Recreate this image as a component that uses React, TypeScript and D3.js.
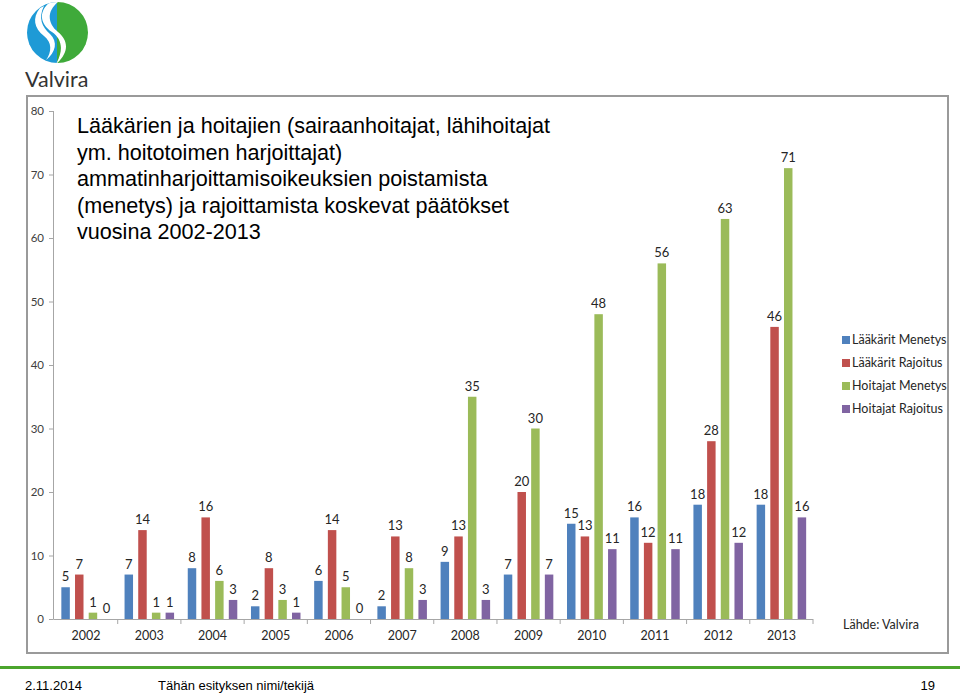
import React from 'react';
import * as d3 from 'd3';

const years = ['2002', '2003', '2004', '2005', '2006', '2007', '2008', '2009', '2010', '2011', '2012', '2013'];
const seriesNames = ['Lääkärit Menetys', 'Lääkärit Rajoitus', 'Hoitajat Menetys', 'Hoitajat Rajoitus'];
const laakaritMenetys = [5, 7, 8, 2, 6, 2, 9, 7, 15, 16, 18, 18];
const laakaritRajoitus = [7, 14, 16, 8, 14, 13, 13, 20, 13, 12, 28, 46];
const hoitajatMenetys = [1, 1, 6, 3, 5, 8, 35, 30, 48, 56, 63, 71];
const hoitajatRajoitus = [0, 1, 3, 1, 0, 3, 3, 7, 11, 11, 12, 16];
const yTicks = [0, 10, 20, 30, 40, 50, 60, 70, 80];
const colors = ['#4F81BD', '#C0504D', '#9BBB59', '#8064A2'];

const titleLines = [
    'Lääkärien ja hoitajien (sairaanhoitajat, lähihoitajat',
    'ym. hoitotoimen harjoittajat)',
    'ammatinharjoittamisoikeuksien poistamista',
    '(menetys) ja rajoittamista koskevat päätökset',
    'vuosina 2002-2013',
];

const labelFont = 'Lato, "Open Sans", sans-serif';

const Logo = () => (
    <g>
        <defs>
            <clipPath id="logoClip">
                <circle cx={57.5} cy={32.5} r={30.5} />
            </clipPath>
        </defs>
        <g clipPath="url(#logoClip)">
            <rect x={25} y={0} width={33} height={66} fill="#1E9AD6" />
            <rect x={57} y={0} width={33} height={66} fill="#3FAA3A" />
            <path d="M50,2 C38,12 40,24 52,32 C62,39 64,50 56,64 C70,52 68,40 58,32 C48,24 46,12 58,2 Z" fill="#fff" />
            <path d="M40,8 C32,18 34,28 44,36 C52,42 52,52 46,60 C56,52 58,42 50,34 C42,27 38,18 44,6 Z" fill="#fff" />
        </g>
        <text x={25} y={87} fontFamily={labelFont} fontSize={21.5} fill="#333">Valvira</text>
    </g>
);

const App = () => {
    const width = 960;
    const height = 694;
    const series = [laakaritMenetys, laakaritRajoitus, hoitajatMenetys, hoitajatRajoitus];

    const x = d3.scaleBand().domain(years).range([54.5, 813]).paddingInner(0).paddingOuter(0);
    const inner = d3.scaleBand().domain(seriesNames).range([0, x.bandwidth()]).paddingInner(0.38).paddingOuter(0.5);
    const y = d3.scaleLinear().domain([0, 80]).range([619, 111]);

    return (
        <svg width={width} height={height} style={{ position: 'absolute', left: 0, top: 0 }}>
            <rect x={0} y={0} width={width} height={height} fill="#fff" />
            <Logo />
            <rect x={27} y={96} width={921} height={557} fill="#fff" stroke="#9a9a9a" strokeWidth={2} />

            {titleLines.map((t, i) => (
                <text key={i} x={77} y={133 + i * 26.5} fontFamily='"Liberation Sans", Arial, sans-serif' fontSize={21.6} fill="#000">
                    {t}
                </text>
            ))}

            {/* y axis */}
            <line x1={53.5} x2={53.5} y1={y(80)} y2={y(0)} stroke="#a6a6a6" />
            {yTicks.map(t => (
                <g key={t}>
                    <line x1={49} x2={53.5} y1={y(t) + 0.5} y2={y(t) + 0.5} stroke="#a6a6a6" />
                    <text x={44} y={y(t) + 4} textAnchor="end" fontFamily={labelFont} fontSize={11.5} fill="#404040">{t}</text>
                </g>
            ))}

            {/* x axis */}
            <line x1={53.5} x2={x.range()[1]} y1={y(0) + 0.5} y2={y(0) + 0.5} stroke="#a6a6a6" />
            {years.map(yr => (
                <g key={yr}>
                    <line x1={(x(yr) as number) + x.bandwidth()} x2={(x(yr) as number) + x.bandwidth()} y1={y(0)} y2={y(0) + 5} stroke="#a6a6a6" />
                    <text x={(x(yr) as number) + x.bandwidth() / 2} y={640} textAnchor="middle" fontFamily={labelFont} fontSize={12.5} fill="#262626">{yr}</text>
                </g>
            ))}

            {/* bars */}
            {series.map((vals, s) => (
                <g key={s}>
                    {vals.map((v, i) => {
                        const bx = (x(years[i]) as number) + (inner(seriesNames[s]) as number);
                        return (
                            <g key={i}>
                                <rect x={bx} y={y(v)} width={inner.bandwidth()} height={y(0) - y(v)} fill={colors[s]} />
                                <text x={bx + inner.bandwidth() / 2} y={y(v) - 6} textAnchor="middle" fontFamily={labelFont} fontSize={13} fill="#262626">{v}</text>
                            </g>
                        );
                    })}
                </g>
            ))}

            {/* legend */}
            {seriesNames.map((n, i) => (
                <g key={n} transform={`translate(842, ${340 + i * 23})`}>
                    <rect x={0} y={-4} width={8} height={8} fill={colors[i]} />
                    <text x={10} y={4} fontFamily={labelFont} fontSize={12.5} fill="#262626">{n}</text>
                </g>
            ))}

            <text x={843} y={629} fontFamily={labelFont} fontSize={12.5} fill="#262626">Lähde: Valvira</text>

            {/* footer */}
            <rect x={0} y={666} width={960} height={3} fill="#4BA52D" />
            <g fontFamily='"Liberation Sans", Arial, sans-serif' fontSize={13} fill="#000">
                <text x={25} y={690}>2.11.2014</text>
                <text x={158} y={690}>Tähän esityksen nimi/tekijä</text>
                <text x={935} y={690} textAnchor="end">19</text>
            </g>
        </svg>
    );
};

export default App;
